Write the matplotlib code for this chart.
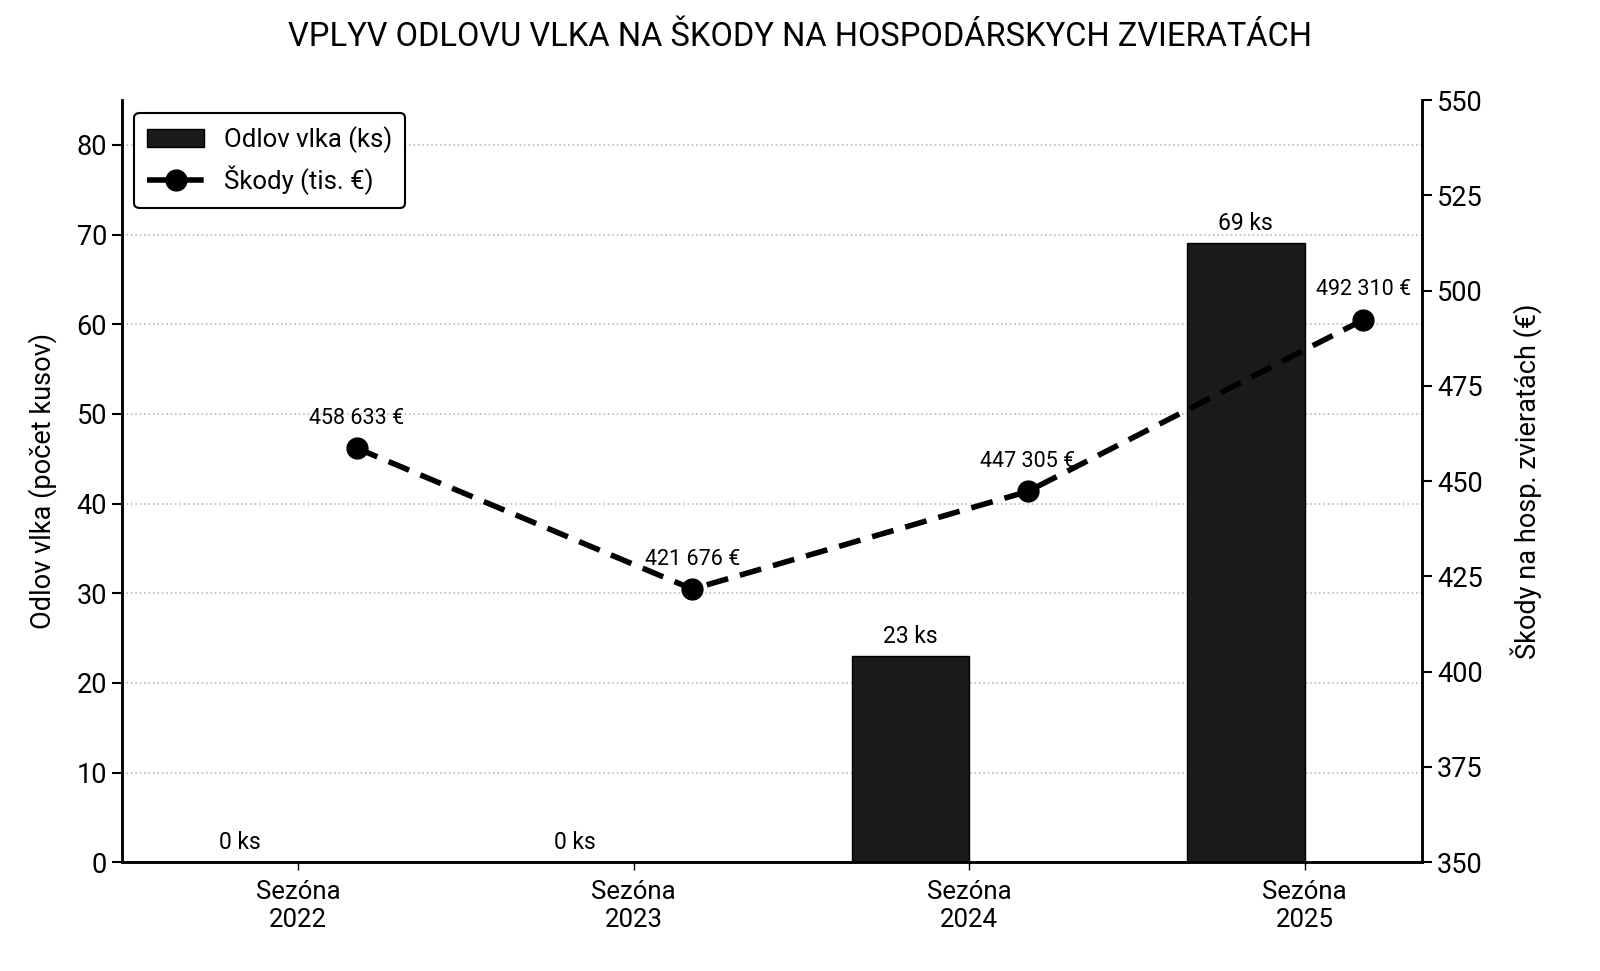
import matplotlib
matplotlib.use("Agg")
import matplotlib.pyplot as plt
import numpy as np

plt.rcParams["font.family"] = ["Roboto", "DejaVu Sans"]

seasons = ["Sezóna\n2022", "Sezóna\n2023", "Sezóna\n2024", "Sezóna\n2025"]
wolf_cull = [0, 0, 23, 69]
damages_eur = [458633, 421676, 447305, 492310]
damages_k = [v / 1000 for v in damages_eur]


def fmt_eur(v):
    return f"{v:,}".replace(",", " ") + " €"


x = np.arange(len(seasons))
width = 0.35

fig = plt.figure(figsize=(16, 9.71), dpi=100)
ax = fig.add_axes([0.076, 0.112, 0.813, 0.785])
ax2 = ax.twinx()

bars = ax.bar(x - width / 2, wolf_cull, width, color="#1a1a1a", edgecolor="black",
              linewidth=1, label="Odlov vlka (ks)", zorder=2)
for xi, v in zip(x, wolf_cull):
    ax.annotate(f"{v} ks", (xi - width / 2, v), xytext=(0, 6), textcoords="offset points",
                ha="center", va="bottom", fontsize=16.5)

line, = ax2.plot(x + width / 2, damages_k, color="black", linestyle="--", linewidth=4,
                 dashes=(4, 2.2), marker="o", markersize=15, label="Škody (tis. €)", zorder=3)
for xi, v, raw in zip(x, damages_k, damages_eur):
    ax2.annotate(fmt_eur(raw), (xi + width / 2, v), xytext=(0, 14), textcoords="offset points",
                 ha="center", va="bottom", fontsize=15.5)

ax.set_ylim(0, 85)
ax.set_yticks(range(0, 81, 10))
ax2.set_ylim(350, 550)
ax2.set_yticks(range(350, 551, 25))
ax.set_xticks(x)
ax.set_xticklabels(seasons, fontsize=18.5)
ax.tick_params(axis="y", labelsize=19.5, width=1.5, length=7)
ax.tick_params(axis="x", width=1, length=6, pad=7)
ax2.tick_params(axis="y", labelsize=19.5, width=1.5, length=7)

ax.grid(axis="y", linestyle=":", color="#bbbbbb", linewidth=1.2, zorder=0)
ax.set_axisbelow(True)

for a in (ax, ax2):
    a.spines["top"].set_visible(False)
    for s in ("left", "right", "bottom"):
        a.spines[s].set_linewidth(1.8)

ax.set_ylabel("Odlov vlka (počet kusov)", fontsize=19.5, labelpad=14)
ax2.set_ylabel("Škody na hosp. zvieratách (€)", fontsize=19.5, labelpad=20)

fig.suptitle("VPLYV ODLOVU VLKA NA ŠKODY NA HOSPODÁRSKYCH ZVIERATÁCH", fontsize=23.5, y=0.978)

leg = ax.legend([bars, line], ["Odlov vlka (ks)", "Škody (tis. €)"], loc="upper left",
                fontsize=18.5, frameon=True, edgecolor="black", framealpha=1,
                borderpad=0.5, handlelength=2.2)
leg.get_frame().set_linewidth(1.5)

fig.savefig("out.png", dpi=100, facecolor="white")
